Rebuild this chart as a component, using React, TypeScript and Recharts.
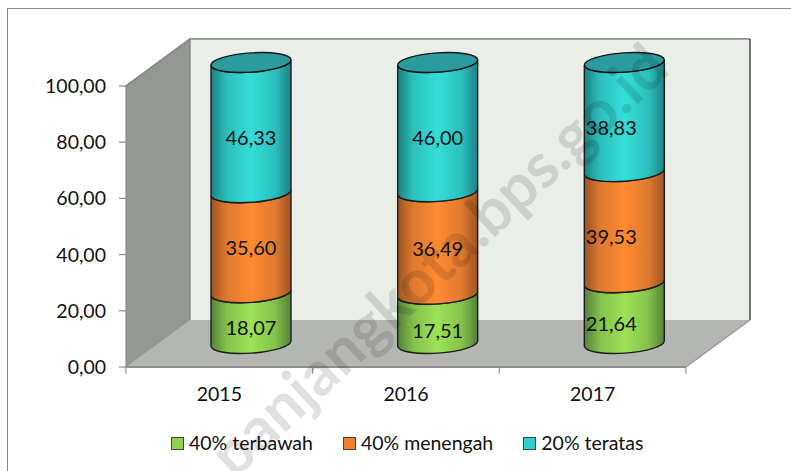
import React from "react";
import { ComposedChart, Bar, XAxis, YAxis, CartesianGrid, Legend, LabelList, Customized, usePlotArea } from "recharts";

const years = ["2015", "2016", "2017"];
const bottom40 = [18.07, 17.51, 21.64];
const middle40 = [35.6, 36.49, 39.53];
const top20 = [46.33, 46.0, 38.83];
const yTicks = [0, 20, 40, 60, 80, 100];
const rows = years.map((year, i) => ({ year, bottom40: bottom40[i], middle40: middle40[i], top20: top20[i] }));

const FONT = "Lato, Carlito, sans-serif";
const DX = 64, DY = -47;           // depth of the 3D box
const CX = 32, CY = -23.5;         // cylinder offset inside the box
const RY = 9.6, TILT = -4;

const fmt = (v: number) => v.toFixed(2).replace(".", ",");

const seriesDefs = [
  { key: "bottom40", name: "40% terbawah", grad: "gGreen", swatch: "#92d050" },
  { key: "middle40", name: "40% menengah", grad: "gOrange", swatch: "#f17d2d" },
  { key: "top20", name: "20% teratas", grad: "gTeal", swatch: "#30cfcf" },
];

// hand placed data-label shifts of the original, [dx, dy] per series and year
const labelShift: Record<string, number[][]> = {
  bottom40: [[32, -15], [32, -12], [19, -14]],
  middle40: [[32, -19], [32, -19], [19, -15]],
  top20: [[32, -14], [32, -14], [19, -14]],
};

function Cyl(props: any) {
  const { x, y, width, height, grad, cap } = props;
  if (height == null) return null;
  const rx = width / 2;
  const l = x + CX, r = x + width + CX;
  const s = rx * Math.sin((TILT * Math.PI) / 180);
  const ty = y + CY, by = y + height + CY;
  const arc = (sweep: number, px: number, py: number) => `A${rx} ${RY} ${TILT} 0 ${sweep} ${px} ${py}`;
  const d = `M${l} ${ty - s}L${l} ${by - s}${arc(0, r, by + s)}L${r} ${ty + s}${arc(1, l, ty - s)}Z`;
  return (
    <g>
      <path d={d} fill={`url(#${grad})`} stroke="#1c1c1c" strokeWidth={1.4} />
      {cap && (
        <path
          d={`M${l} ${ty - s}${arc(1, r, ty + s)}${arc(1, l, ty - s)}Z`}
          fill="#2a9c9e"
          stroke="#111"
          strokeWidth={1.4}
        />
      )}
    </g>
  );
}

function Backdrop() {
  const p = usePlotArea();
  if (!p) return null;
  const { x, y, width: w, height: h } = p;
  const b = y + h, r = x + w;
  return (
    <g>
      <polygon points={`${x},${y} ${x + DX},${y + DY} ${x + DX},${b + DY} ${x},${b}`} fill="#959794" />
      <rect x={x + DX} y={y + DY} width={w} height={h} fill="#e9efe8" />
      <polygon points={`${x},${b} ${x + DX},${b + DY} ${r + DX},${b + DY} ${r},${b}`} fill="#b4b6b1" />
    </g>
  );
}

function Edges() {
  const p = usePlotArea();
  if (!p) return null;
  const { x, y, width: w, height: h } = p;
  const b = y + h, r = x + w;
  const stepX = w / years.length;
  return (
    <g fill="none">
      <path d={`M${x} ${y}L${x + DX} ${y + DY}L${r + DX} ${y + DY}`} stroke="#8a8a8a" strokeWidth={1.6} />
      <path d={`M${x + DX} ${y + DY}L${x + DX} ${b + DY}`} stroke="#7b7b7b" strokeWidth={1.2} />
      <path d={`M${r + DX} ${y + DY}L${r + DX} ${b + DY}`} stroke="#3a3a3a" strokeWidth={1.4} />
      <path d={`M${r} ${b}L${r + DX} ${b + DY}`} stroke="#9a9a9a" strokeWidth={1.4} />
      <path d={`M${x} ${b}L${r} ${b}`} stroke="#8f8f8f" strokeWidth={1.8} />
      {[0, 1, 2, 3].map((i) => (
        <path key={i} d={`M${x + i * stepX} ${b}v7`} stroke="#9a9a9a" strokeWidth={1.2} />
      ))}
    </g>
  );
}

function Watermark() {
  return (
    <svg width={791} height={471} style={{ position: "absolute", left: 0, top: 0, pointerEvents: "none" }}>
      <text
        x={672}
        y={72}
        textAnchor="end"
        transform="rotate(-43 672 72)"
        fontFamily={FONT}
        fontWeight={700}
        fontSize={62}
        fill="#000"
        fillOpacity={0.12}
      >
        panjangkota.bps.go.id
      </text>
    </svg>
  );
}

function gridLine(props: any) {
  const { x1, x2, y1 } = props;
  return (
    <path
      key={y1}
      d={`M${x1} ${y1}L${x1 + DX} ${y1 + DY}L${x2 + DX} ${y1 + DY}`}
      fill="none"
      stroke="#888a88"
      strokeWidth={1.5}
    />
  );
}

function makeLabel(key: string) {
  return function SegLabel(props: any) {
    const { x, y, width, height, index, value } = props;
    const [sx, sy] = labelShift[key][index];
    return (
      <text
        x={x + width / 2 + sx}
        y={y + height / 2 + sy}
        textAnchor="middle"
        dominantBaseline="central"
        fontFamily={FONT}
        fontSize={20}
        fill="#111"
      >
        {fmt(value)}
      </text>
    );
  };
}

function LegendBox() {
  const gaps = [0, 30, 30];
  return (
    <div style={{ display: "flex", alignItems: "center", fontFamily: FONT, fontSize: 19.5, color: "#111", lineHeight: "24px" }}>
      {seriesDefs.map((s, i) => (
        <div key={s.key} style={{ display: "flex", alignItems: "center", marginLeft: gaps[i] }}>
          <span style={{ width: 11, height: 11, background: s.swatch, border: "1px solid #444", marginRight: 5, display: "inline-block" }} />
          <span>{s.name}</span>
        </div>
      ))}
    </div>
  );
}

function Grad({ id, edge, soft, mid }: { id: string; edge: string; soft: string; mid: string }) {
  return (
    <linearGradient id={id} x1="0" y1="0" x2="1" y2="0">
      <stop offset="0" stopColor={edge} />
      <stop offset="0.2" stopColor={soft} />
      <stop offset="0.5" stopColor={mid} />
      <stop offset="0.8" stopColor={soft} />
      <stop offset="1" stopColor={edge} />
    </linearGradient>
  );
}

export default function App() {
  return (
    <div style={{ position: "absolute", left: 0, top: 0, width: 791, height: 471, background: "#fff", overflow: "hidden" }}>
      <div style={{ position: "absolute", left: 7, top: 8, width: 900, height: 600, border: "1.5px solid #8c8c8c" }} />
      <ComposedChart
        width={791}
        height={471}
        data={rows}
        margin={{ top: 86, right: 105, bottom: 0, left: 0 }}
        barSize={80}
        style={{ position: "absolute", left: 0, top: 0 }}
      >
        <defs>
          <Grad id="gGreen" edge="#55813a" soft="#84c24a" mid="#9ce356" />
          <Grad id="gOrange" edge="#9c5422" soft="#e07a2e" mid="#ff8a32" />
          <Grad id="gTeal" edge="#1c8183" soft="#2cc0be" mid="#34ddd9" />
        </defs>
        <Customized component={Backdrop} />
        <CartesianGrid vertical={false} horizontal={gridLine as any} />
        <Customized component={Edges} />
        <XAxis
          dataKey="year"
          height={80}
          axisLine={false}
          tickLine={false}
          tickMargin={14}
          tick={{ fontFamily: FONT, fontSize: 19.5, fill: "#111" }}
        />
        <YAxis
          width={126}
          domain={[0, 100]}
          ticks={yTicks}
          tickFormatter={fmt}
          tickSize={7}
          tickMargin={13}
          interval={0}
          axisLine={{ stroke: "#8c8c8c", strokeWidth: 1.2 }}
          tickLine={{ stroke: "#8c8c8c", strokeWidth: 1.2 }}
          tick={{ fontFamily: FONT, fontSize: 19.5, fill: "#111" }}
        />
        {seriesDefs.map((s, i) => (
          <Bar
            key={s.key}
            dataKey={s.key}
            name={s.name}
            stackId="a"
            fill={s.swatch}
            isAnimationActive={false}
            shape={(p: any) => <Cyl {...p} grad={s.grad} cap={i === 2} />}
          >
            <LabelList dataKey={s.key} content={makeLabel(s.key) as any} />
          </Bar>
        ))}
        <Legend
          content={() => <LegendBox />}
          wrapperStyle={{ position: "absolute", left: 171, top: 431, width: 560, bottom: "auto" }}
        />
      </ComposedChart>
      <Watermark />
    </div>
  );
}
